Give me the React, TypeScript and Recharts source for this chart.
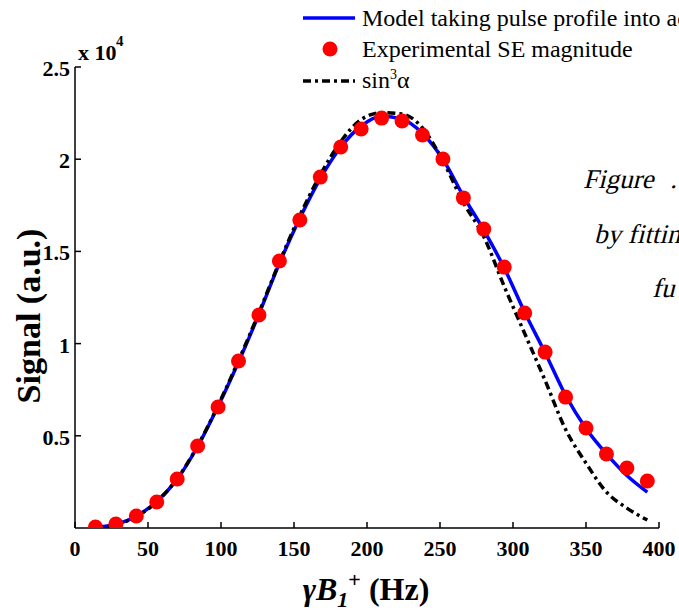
import React from 'react';
import { ComposedChart, Line, XAxis, YAxis } from 'recharts';

const FONT = '"Liberation Serif", "Times New Roman", serif';

const xValues = [14, 28, 42, 56, 70, 84, 98, 112, 126, 140, 154, 168, 182, 196, 210, 224, 238, 252, 266, 280, 294, 308, 322, 336, 350, 364, 378, 392];
const expValues = [54, 217, 650, 1410, 2660, 4450, 6560, 9060, 11550, 14480, 16700, 19030, 20660, 21640, 22230, 22070, 21310, 20010, 17900, 16210, 14150, 11660, 9540, 7100, 5420, 4010, 3250, 2550];
const modelValues = [30, 200, 640, 1440, 2650, 4420, 6600, 9000, 11600, 14350, 16800, 18950, 20650, 21800, 22330, 22170, 21400, 20000, 18000, 16150, 14100, 11700, 9500, 7200, 5400, 4020, 2850, 1950];
const sin3Values = [20, 180, 620, 1420, 2680, 4460, 6650, 9080, 11680, 14420, 16950, 19150, 20950, 22150, 22520, 22450, 21700, 19900, 17650, 15800, 13100, 10550, 8000, 5350, 3520, 1950, 1080, 430];

const xTicks = [0, 50, 100, 150, 200, 250, 300, 350, 400];
const yTicks = [5000, 10000, 15000, 20000, 25000];

const legendLabels = ['Model taking pulse profile into account', 'Experimental SE magnitude'];

const XTick = (props: any) => {
  const { x, y, payload } = props;
  return (
    <g>
      <line x1={x} x2={x} y1={y} y2={y - 6} stroke="#000" strokeWidth={1.5} />
      <text x={x} y={y + 28} textAnchor="middle" fontFamily={FONT} fontWeight="bold" fontSize={22} fill="#000">
        {payload.value}
      </text>
    </g>
  );
};

const YTick = (props: any) => {
  const { x, y, payload } = props;
  return (
    <g>
      <line x1={x} x2={x + 6} y1={y} y2={y} stroke="#000" strokeWidth={1.5} />
      <text x={x - 5} y={y + 9} textAnchor="end" fontFamily={FONT} fontWeight="bold" fontSize={22} fill="#000">
        {payload.value / 10000}
      </text>
    </g>
  );
};

const Slanted = ({ x, y, children }: any) => (
  <text transform={`translate(${x}, ${y}) skewX(-14)`} x={0} y={0} fontFamily={FONT} fontSize={27} fill="#000">
    {children}
  </text>
);

export default function App() {
  const data = xValues.map((x, i) => ({ x, model: modelValues[i], exp: expValues[i], sin3: sin3Values[i] }));
  return (
    <div style={{ position: 'absolute', left: 0, top: 0, width: 679, height: 612, background: '#fff' }}>
      <ComposedChart width={679} height={612} data={data} margin={{ top: 67, right: 20, bottom: 54, left: 0 }}>
        <XAxis
          dataKey="x"
          type="number"
          domain={[0, 400]}
          ticks={xTicks}
          interval={0}
          height={30}
          tickSize={0}
          tickMargin={0}
          tickLine={false}
          tick={<XTick />}
          axisLine={{ stroke: '#000', strokeWidth: 1.5 }}
          allowDataOverflow
        />
        <YAxis
          type="number"
          domain={[0, 25000]}
          ticks={yTicks}
          interval={0}
          width={75}
          tickSize={0}
          tickMargin={0}
          tickLine={false}
          tick={<YTick />}
          axisLine={{ stroke: '#000', strokeWidth: 1.5 }}
          allowDataOverflow
        />
        <Line dataKey="model" type="monotone" stroke="#0000ff" strokeWidth={3.5} dot={false} isAnimationActive={false} />
        <Line dataKey="sin3" type="monotone" stroke="#000" strokeWidth={3.5} strokeDasharray="8 4 3 4" dot={false} isAnimationActive={false} />
        <Line dataKey="exp" type="monotone" stroke="none" strokeWidth={0} dot={{ r: 7.5, fill: '#ff0000', stroke: 'none' }} isAnimationActive={false} />

        <g>
          <text x={78} y={60} fontFamily={FONT} fontWeight="bold" fontSize={22} fill="#000">x 10</text>
          <text x={116} y={46} fontFamily={FONT} fontWeight="bold" fontSize={15} fill="#000">4</text>

          <line x1={303} x2={355} y1={18} y2={18} stroke="#0000ff" strokeWidth={3.5} />
          <text x={362} y={26} fontFamily={FONT} fontSize={24} fill="#000">{legendLabels[0]}</text>
          <circle cx={330} cy={49} r={7.5} fill="#ff0000" />
          <text x={362} y={57} fontFamily={FONT} fontSize={24} fill="#000">{legendLabels[1]}</text>
          <line x1={303} x2={355} y1={81} y2={81} stroke="#000" strokeWidth={3.5} strokeDasharray="8 4 3 4" />
          <text x={362} y={88} fontFamily={FONT} fontSize={24} fill="#000">
            <tspan fontFamily={FONT}>sin</tspan>
            <tspan fontFamily={FONT} fontSize={14} dy={-9}>3</tspan>
            <tspan fontFamily={FONT} dy={9}>α</tspan>
          </text>

          <text x={40} y={316} transform="rotate(-90, 40, 316)" textAnchor="middle" fontFamily={FONT} fontWeight="bold" fontSize={34} fill="#000">
            Signal (a.u.)
          </text>
          <text x={366} y={600} textAnchor="middle" fontFamily={FONT} fontWeight="bold" fontSize={32} fill="#000">
            <tspan fontStyle="italic">γB</tspan>
            <tspan fontStyle="italic" fontSize={22} dy={7}>1</tspan>
            <tspan fontSize={22} dy={-20}>+</tspan>
            <tspan dy={13}> (Hz)</tspan>
          </text>

          <Slanted x={583} y={188}>Figure</Slanted>
          <Slanted x={670} y={188}>.</Slanted>
          <Slanted x={594} y={243}>by fitting</Slanted>
          <Slanted x={652} y={297}>fu</Slanted>
        </g>
      </ComposedChart>
    </div>
  );
}
